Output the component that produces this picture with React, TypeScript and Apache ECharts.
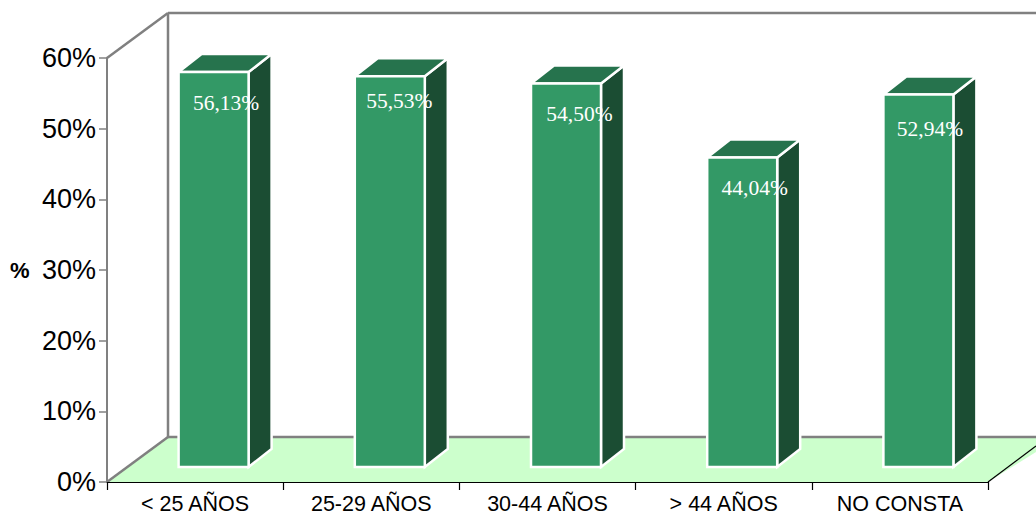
import React, { useEffect, useRef } from "react";
import * as echarts from "echarts";

const categories = ["< 25 AÑOS", "25-29 AÑOS", "30-44 AÑOS", "> 44 AÑOS", "NO CONSTA"];
const values = [56.13, 55.53, 54.5, 44.04, 52.94];
const valueLabels = ["56,13%", "55,53%", "54,50%", "44,04%", "52,94%"];

// layout constants (pixels)
const G = { left: 107, top: 58, width: 881, height: 424 };
const DEPTH = { x: 61, y: 45 };
const labelNudge = [[0, 0], [-3, -6], [1, -1], [0, 0], [-1, 3.5]];

export default function App() {
  const ref = useRef<HTMLDivElement>(null);
  useEffect(() => {
    const chart = echarts.init(ref.current!, null, { renderer: "svg" });
    const R = G.left + G.width;
    const B = G.top + G.height;
    const backX = G.left + DEPTH.x;
    const backB = B - DEPTH.y;
    const backT = G.top - DEPTH.y;
    const gray = { stroke: "#808080", lineWidth: 2.5 };
    chart.setOption({
      animation: false,
      backgroundColor: "#fff",
      grid: { left: G.left, top: G.top, width: G.width, height: G.height, outerBoundsMode: "none" },
      graphic: [
        { type: "polygon", z: -1, shape: { points: [[G.left, B], [backX, backB], [1060, backB], [R, B]] }, style: { fill: "#CCFFCC" } },
        { type: "line", z: -1, shape: { x1: backX, y1: backB, x2: 1036, y2: backB }, style: gray },
        { type: "line", z: -1, shape: { x1: backX, y1: backT, x2: 1036, y2: backT }, style: gray },
        { type: "line", z: -1, shape: { x1: backX, y1: backT, x2: backX, y2: backB }, style: gray },
        { type: "line", z: -1, shape: { x1: G.left, y1: G.top, x2: backX, y2: backT }, style: gray },
        { type: "line", z: -1, shape: { x1: G.left, y1: B, x2: backX, y2: backB }, style: gray },
        { type: "line", z: -1, shape: { x1: R, y1: B, x2: 1036, y2: B - 36 }, style: { stroke: "#000", lineWidth: 1.2 } },
        { type: "text", x: 10, y: 259, style: { text: "%", font: "bold 22px 'Liberation Sans'", fill: "#000" } },
      ],
      xAxis: {
        type: "category",
        data: categories,
        axisLine: { lineStyle: { color: "#000", width: 1.2 } },
        axisTick: { show: true, length: 8, alignWithLabel: false, lineStyle: { color: "#000", width: 1.2 } },
        axisLabel: { color: "#000", fontFamily: "Liberation Sans", fontSize: 21.5, lineHeight: 16, margin: 13.5, interval: 0 },
        splitLine: { show: false },
      },
      yAxis: {
        type: "value",
        min: 0,
        max: 60,
        interval: 10,
        axisLine: { show: true, lineStyle: { color: "#808080", width: 2 } },
        axisTick: { show: true, length: 8, lineStyle: { color: "#808080", width: 1.5 } },
        axisLabel: { color: "#000", fontFamily: "Liberation Sans", fontSize: 27, margin: 11, padding: [2, 0, 0, 0], formatter: "{value}%" },
        splitLine: { show: false },
      },
      series: [
        {
          type: "custom",
          clip: false,
          silent: true,
          data: values.map((v, i) => [i, v]),
          encode: { x: 0, y: 1 },
          renderItem: (params: any, api: any) => {
            const idx = api.value(0);
            const c = api.coord([idx, api.value(1)]);
            const zero = api.coord([idx, 0]);
            const w = 70, dx = 23, dy = 18;
            const x0 = zero[0] + 18.5 - w / 2;
            const x1 = x0 + w;
            const yb = zero[1] - 15;
            const yt = c[1] - 13.3;
            const stroke = { stroke: "#fff", lineWidth: 2.5, lineJoin: "miter" };
            const n = labelNudge[params.dataIndex];
            return {
              type: "group",
              children: [
                { type: "polygon", shape: { points: [[x1, yt], [x1 + dx, yt - dy], [x1 + dx, yb - dy], [x1, yb]] }, style: { fill: "#1B4D33", ...stroke } },
                { type: "polygon", shape: { points: [[x0, yt], [x0 + dx, yt - dy], [x1 + dx, yt - dy], [x1, yt]] }, style: { fill: "#26734D", ...stroke } },
                { type: "rect", shape: { x: x0, y: yt, width: w, height: yb - yt }, style: { fill: "#339966", ...stroke } },
                {
                  type: "text",
                  x: x1 - 22.5 + n[0],
                  y: yt + 31 + n[1],
                  style: {
                    text: valueLabels[params.dataIndex],
                    font: "21.5px 'Liberation Serif'",
                    fill: "#fff",
                    align: "center",
                    verticalAlign: "middle",
                  },
                },
              ],
            };
          },
        },
      ],
    });
    return () => chart.dispose();
  }, []);
  return <div ref={ref} style={{ position: "fixed", left: 0, top: 0, width: 1036, height: 515 }} />;
}
